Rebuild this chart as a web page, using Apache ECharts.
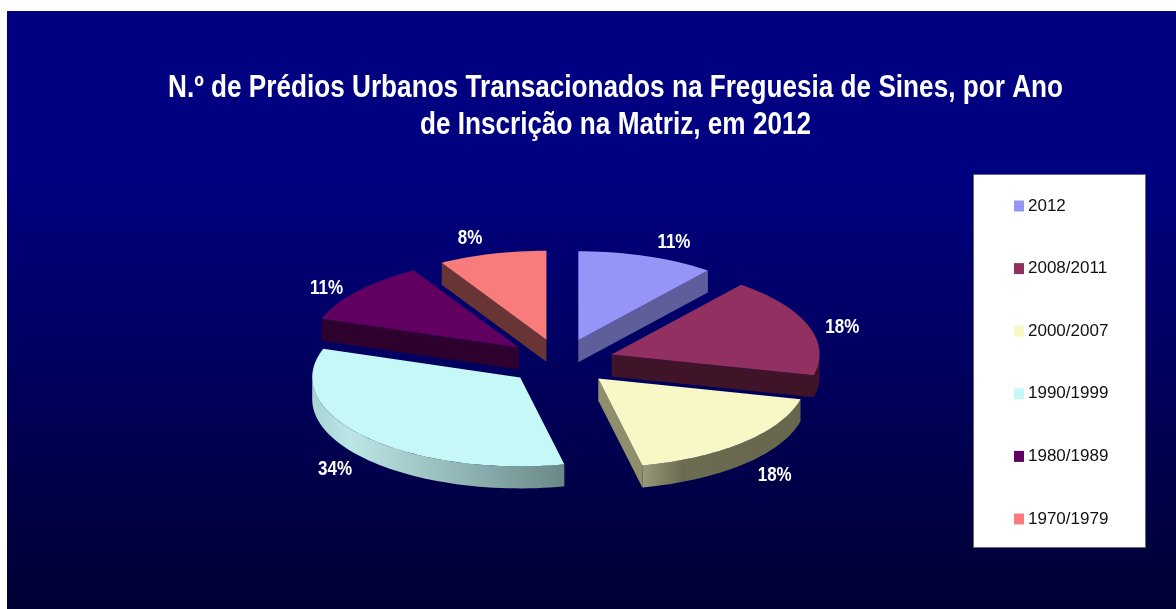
<!DOCTYPE html>
<html><head><meta charset="utf-8">
<style>html,body{margin:0;padding:0;background:#fff}#c{width:1176px;height:609px}</style>
<script src="https://cdn.jsdelivr.net/npm/echarts@6/dist/echarts.min.js"></script>
</head><body><div id="c"></div>
<script>
const categories = ['2012','2008/2011','2000/2007','1990/1999','1980/1989','1970/1979'];
const shares = [10.7,18.05,17.85,33.6,11.4,8.4];
const titleText = 'N.º de Prédios Urbanos Transacionados na Freguesia de Sines, por Ano\nde Inscrição na Matriz, em 2012';
const topColors = ['#9595F8','#933062','#F8F8C6','#C6F8F8','#620062','#F87C7C'];
const cutColors = ['#5E5E9A','#3F1428','#8F8F6C','#6E8E8E','#2E002E','#683434'];
const rimStops = [
  [[0,'#5E5E9A'],[1,'#5E5E9A']],
  [[0,'#3F1428'],[1,'#3F1428']],
  [[0,'#9A9A78'],[0.25,'#6C6C52'],[1,'#66664C']],
  [[0,'#A8D4D4'],[0.15,'#BCE6E6'],[1,'#6A8888']],
  [[0,'#2E002E'],[1,'#2E002E']],
  [[0,'#683434'],[1,'#683434']]
];
const labelNudge = [[27,-14],[34,2],[31,11],[-30,11],[-31,-3],[-22,-15]];

const FONT = '"Liberation Sans",Arial,sans-serif';
const CX = 560.5, CY = 362, R = 208, RY = 89, DEPTH = 22, EXPLODE = 54;
const total = shares.reduce((a,b)=>a+b,0);
const starts = []; { let s = 0; for (const v of shares){ starts.push(s); s += v/total*360; } }
const rad = d => d*Math.PI/180;

function slice(i, value){
  const a1 = starts[i], a2 = a1 + value/total*360, mid = (a1+a2)/2;
  const ax = CX + EXPLODE*Math.sin(rad(mid));
  const ay = CY - EXPLODE*(RY/R)*Math.cos(rad(mid));
  const P = a => [ax + R*Math.sin(rad(a)), ay - RY*Math.cos(rad(a))];
  const down = p => [p[0], p[1]+DEPTH];
  const arc = (s,e) => { const out=[]; const n=Math.max(2,Math.ceil((e-s)/2));
    for(let k=0;k<=n;k++) out.push(P(s+(e-s)*k/n)); return out; };
  const children = [];
  const rs = Math.max(a1,90), re = Math.min(a2,270);
  if (re > rs){
    const top = arc(rs,re);
    children.push({type:'polygon', shape:{points: top.concat(top.slice().reverse().map(down))},
      style:{fill:new echarts.graphic.LinearGradient(0,0,1,0,rimStops[i].map(s=>({offset:s[0],color:s[1]})))}});
  }
  const apex=[ax,ay];
  const face = a => ({type:'polygon', shape:{points:[apex,P(a),down(P(a)),down(apex)]}, style:{fill:cutColors[i]}});
  if (Math.sin(rad(a1)) < -1e-6) children.push(face(a1));
  if (Math.sin(rad(a2)) >  1e-6) children.push(face(a2));
  children.push({type:'polygon', shape:{points:[apex].concat(arc(a1,a2))}, style:{fill:topColors[i]}});
  const m = P(mid), front = Math.cos(rad(mid))<0 ? DEPTH : 0;
  children.push({type:'text', x:m[0]+labelNudge[i][0], y:m[1]+front+labelNudge[i][1], scaleX:0.85,
    style:{text:Math.round(value)+'%', fill:'#fff', font:'bold 20px '+FONT, align:'center', verticalAlign:'middle'}});
  return {type:'group', children};
}

const chart = echarts.init(document.getElementById('c'), null, {renderer:'canvas'});
chart.setOption({
  animation:false,
  backgroundColor:'#fff',
  legend:{orient:'vertical',left:1014,top:197.5,itemWidth:10,itemHeight:11,itemGap:45.6,icon:'rect',padding:0,
    data:categories,selectedMode:false,
    textStyle:{color:'#111',fontFamily:FONT,fontSize:17,padding:[0,0,0,-1]}},
  graphic:[
    {type:'rect',z:-10,silent:true,shape:{x:7,y:11,width:1169,height:598},
     style:{fill:new echarts.graphic.LinearGradient(0,0,0,1,[{offset:0,color:'#000080'},{offset:0.28,color:'#000080'},{offset:1,color:'#000033'}])}},
    {type:'rect',z:-9,silent:true,shape:{x:973.5,y:174.5,width:172,height:373},
     style:{fill:'#fff',stroke:'#666677',lineWidth:1}},
    {type:'text',z:5,silent:true,x:615.5,y:106.5,scaleX:0.844,
     style:{text:titleText,fill:'#fff',font:'bold 31px '+FONT,lineHeight:37,align:'center',verticalAlign:'middle'}}
  ],
  series:categories.map((name,i)=>({
    type:'custom',name,coordinateSystem:'none',silent:true,
    itemStyle:{color:topColors[i]},
    data:[[shares[i]]],
    renderItem:(params,api)=>slice(i,api.value(0))
  }))
});
</script></body></html>
